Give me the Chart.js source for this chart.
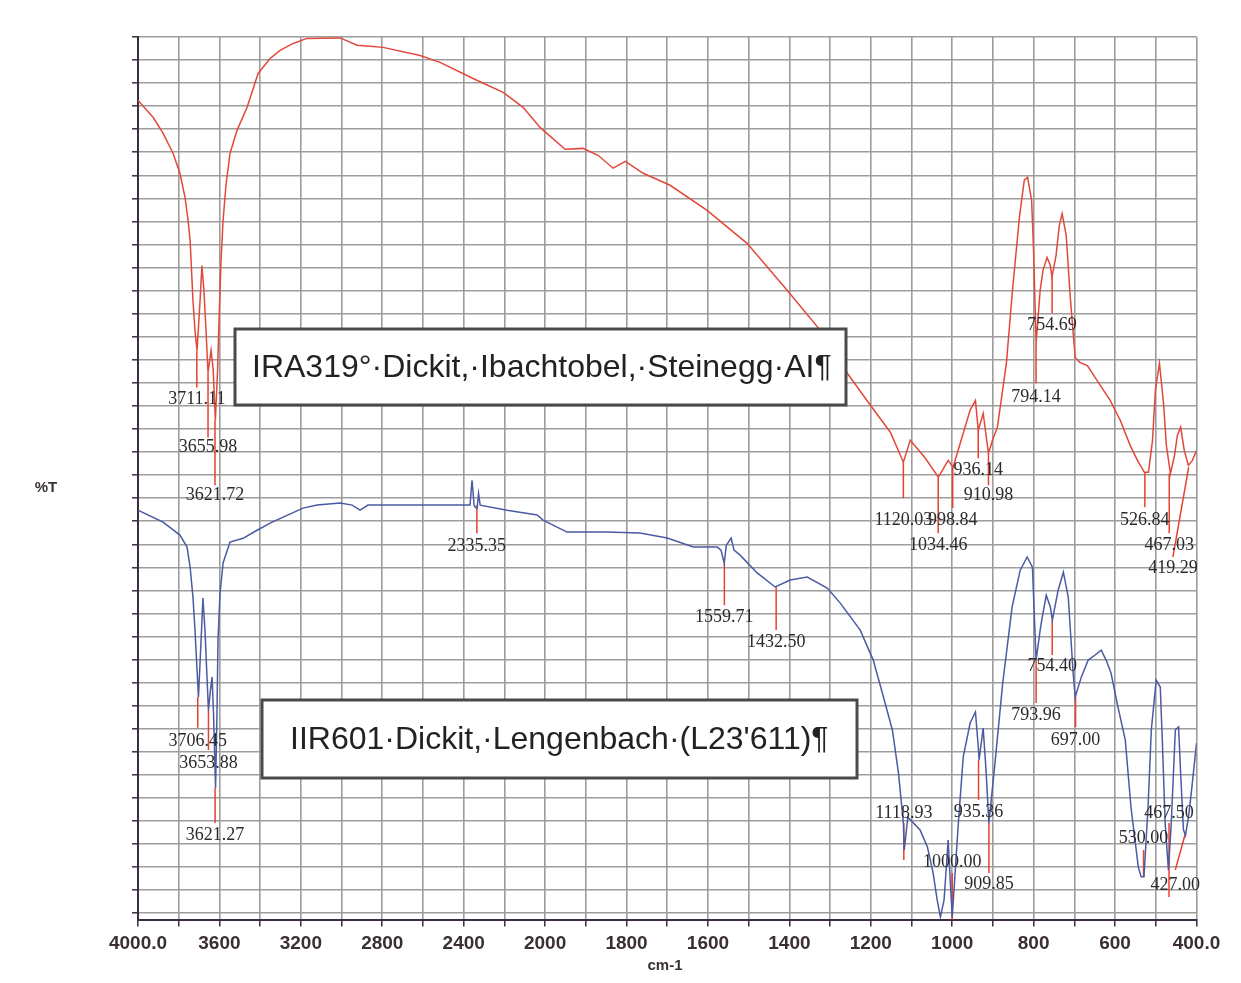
<!DOCTYPE html>
<html>
<head>
<meta charset="utf-8">
<script src="https://cdn.jsdelivr.net/npm/chart.js@4.4.1/dist/chart.umd.min.js"></script>
<style>
  html, body { margin: 0; padding: 0; background: #fff; }
  canvas { display: block; }
</style>
</head>
<body>
<canvas id="spectrum" width="1241" height="983"></canvas>
<script>
// IRA319 (upper trace) - wavenumber cm-1 / %T (grid units)
const redWn = [4000, 3926, 3877, 3828, 3794, 3769, 3754, 3744, 3730, 3720, 3710, 3695, 3686, 3676, 3666, 3656, 3641, 3631, 3620, 3609,
  3602, 3592, 3582, 3568, 3548, 3514, 3464, 3410, 3351, 3302, 3238, 3170, 3007, 2924, 2860, 2796, 2614, 2516, 2354, 2206,
  2108, 2025, 1951, 1907, 1870, 1833, 1803, 1759, 1693, 1602, 1504, 1405, 1324, 1263, 1201, 1152, 1120, 1103, 1066, 1034,
  1010, 998, 973, 956, 943, 936, 924, 911, 901, 889, 867, 852, 835, 823, 815, 805, 800, 794, 784, 777,
  767, 759, 755, 745, 737, 730, 720, 710, 698, 686, 668, 644, 612, 587, 563, 545, 528, 518, 508, 501,
  491, 481, 474, 464, 454, 447, 439, 430, 420, 410, 400];
const redT = [35.25, 34.52, 33.83, 32.96, 32.09, 31.05, 30.05, 29.18, 26.58, 25.28, 24.41, 26.58, 28.09, 27.0, 25.28, 23.45, 24.41, 23.62, 21.38, 23.55,
  25.72, 28.32, 30.05, 31.56, 32.95, 33.94, 34.95, 36.42, 37.07, 37.42, 37.72, 37.94, 37.96, 37.64, 37.6, 37.55, 37.2, 36.9, 36.2, 35.6,
  34.95, 34.08, 33.13, 33.17, 32.87, 32.31, 32.61, 32.09, 31.57, 30.48, 29.05, 27.01, 25.28, 23.55, 22.03, 20.86, 19.56, 20.51, 19.73, 18.91,
  19.64, 19.34, 20.82, 21.82, 22.24, 20.94, 21.68, 19.95, 20.51, 21.08, 23.85, 27.02, 30.18, 31.79, 31.92, 30.92, 28.63, 24.73, 27.02, 27.88,
  28.44, 28.1, 27.58, 28.53, 29.82, 30.34, 29.39, 26.7, 24.1, 23.88, 23.75, 23.1, 22.24, 21.37, 20.29, 19.64, 19.12, 19.12, 20.51, 22.68,
  23.85, 22.11, 20.29, 19.07, 19.86, 20.72, 21.08, 20.07, 19.42, 19.64, 20.07];

// IIR601 (lower trace)
const blueWn = [4000, 3877, 3794, 3759, 3744, 3730, 3720, 3710, 3703, 3690, 3681, 3671, 3661, 3654, 3644, 3636, 3629, 3619, 3612, 3607,
  3597, 3582, 3548, 3484, 3415, 3351, 3287, 3189, 3120, 3007, 2948, 2909, 2870, 2811, 2565, 2369, 2359, 2349, 2344, 2334,
  2327, 2319, 2187, 2039, 2010, 1946, 1848, 1767, 1700, 1636, 1577, 1568, 1560, 1555, 1543, 1536, 1521, 1479, 1435, 1398,
  1356, 1307, 1275, 1226, 1194, 1169, 1147, 1132, 1120, 1118, 1109, 1079, 1061, 1047, 1037, 1029, 1020, 1010, 1005, 1000,
  985, 973, 956, 943, 936, 934, 924, 917, 910, 895, 876, 853, 833, 816, 803, 794, 784, 779, 769, 759,
  754, 740, 727, 715, 703, 698, 683, 666, 649, 634, 622, 610, 593, 575, 561, 543, 536, 529, 519, 511,
  499, 489, 484, 477, 469, 462, 452, 444, 439, 432, 427, 419, 412, 400];
const blueT = [17.48, 16.96, 16.4, 15.88, 15.01, 13.71, 12.28, 10.55, 9.38, 11.85, 13.67, 12.28, 10.24, 8.81, 9.68, 10.24, 8.68, 5.43, 8.68, 11.85,
  13.89, 15.19, 16.1, 16.26, 16.61, 16.92, 17.18, 17.57, 17.7, 17.79, 17.7, 17.48, 17.7, 17.7, 17.7, 17.7, 18.78, 17.7, 17.61, 17.57,
  18.21, 17.7, 17.48, 17.27, 17.05, 16.53, 16.53, 16.49, 16.27, 15.88, 15.88, 15.75, 15.18, 15.96, 16.27, 15.75, 15.53, 14.76, 14.15, 14.45,
  14.58, 14.1, 13.45, 12.28, 10.98, 9.38, 7.95, 6.08, 3.91, 2.74, 4.17, 3.61, 2.88, 1.75, 0.58, -0.16, 0.58, 3.18, 1.44, -0.16,
  3.91, 6.78, 8.25, 8.73, 7.21, 6.65, 8.03, 6.21, 3.91, 6.51, 9.98, 13.28, 14.88, 15.45, 15.01, 10.98, 12.28, 12.84, 13.79, 13.28,
  12.71, 14.0, 14.79, 13.71, 10.42, 9.38, 10.24, 10.98, 11.2, 11.41, 10.98, 10.42, 8.95, 7.52, 4.61, 2.01, 1.58, 1.58, 4.61, 7.95,
  10.11, 9.81, 7.52, 3.91, 1.88, 3.91, 7.95, 8.08, 6.08, 3.61, 3.39, 4.26, 5.35, 7.38];

// peak picks: marker from / to (%T), label height, leader end wavenumber (null = vertical)
const redPeakWn = [3711.11, 3655.98, 3621.72, 1120.03, 1034.46, 998.84, 936.14, 910.98, 794.14, 754.69, 526.84, 467.03, 419.29];
const redPeakFrom = [24.41, 23.45, 21.38, 19.56, 18.91, 19.34, 20.94, 19.95, 24.73, 27.58, 19.12, 19.07, 19.34];
const redPeakTo = [22.8, 20.63, 18.56, 18.0, 16.48, 17.57, 19.73, 18.56, 22.99, 26.02, 17.61, 16.48, 15.44];
const redPeakLabel = [22.28, 20.2, 18.13, 17.05, 15.96, 17.05, 19.21, 18.13, 22.38, 25.5, 17.05, 15.96, 14.97];
const redPeakEnd = [null, null, null, null, null, null, null, null, null, null, null, null, 458];

const bluePeakWn = [3706.45, 3653.88, 3621.27, 2335.35, 1559.71, 1432.50, 1118.93, 1000.00, 935.36, 909.85, 793.96, 754.40, 697.00, 530.00, 467.50, 427.00];
const bluePeakFrom = [9.38, 8.81, 5.43, 17.7, 15.18, 14.15, 2.31, -0.29, 6.65, 3.91, 10.98, 12.71, 9.38, 1.58, 0.71, 3.48];
const bluePeakTo = [8.04, 7.08, 3.91, 16.48, 13.36, 12.28, 3.91, 1.75, 4.91, 1.75, 9.12, 11.2, 8.08, 2.74, 3.91, 1.88];
const bluePeakLabel = [7.47, 6.51, 3.39, 15.92, 12.84, 11.76, 4.35, 2.22, 4.39, 1.27, 8.6, 10.72, 7.52, 3.27, 4.35, 1.23];
const bluePeakEnd = [null, null, null, null, null, null, null, null, null, null, null, null, null, null, null, 452];

const gridSteps = 26;   // vertical grid lines: 200 cm-1 above 2000, 100 cm-1 below
const yLines = 38;

// split abscissa, as on the instrument printout
function wnToPos(wn) {
    return wn >= 2000 ? (4000 - wn) / 200 : 10 + (2000 - wn) / 100;
}
function posToWn(p) {
    return p <= 10 ? 4000 - 200 * p : 2000 - 100 * (p - 10);
}

function toPoints(wn, t) {
    return wn.map((w, i) => ({ x: wnToPos(w), y: t[i] }));
}
function toMarkers(wn, from, to, end) {
    const pts = [];
    wn.forEach((w, i) => {
        const e = end[i] === null ? w : end[i];
        pts.push({ x: wnToPos(w), y: from[i] }, { x: wnToPos(e), y: to[i] }, { x: wnToPos(e), y: null });
    });
    return pts;
}

const RED = '#e2483a';
const BLUE = '#4b5aa3';
const AXIS = '#3c2c42';

const peakSets = [
    { wn: redPeakWn, label: redPeakLabel, end: redPeakEnd },
    { wn: bluePeakWn, label: bluePeakLabel, end: bluePeakEnd }
];

const annotate = {
    id: 'annotate',
    afterDatasetsDraw(chart) {
        const { ctx, scales: { x, y } } = chart;
        ctx.save();
        ctx.font = '18px "Liberation Serif", "Times New Roman", serif';
        ctx.fillStyle = '#2b2b2b';
        ctx.textAlign = 'center';
        ctx.textBaseline = 'middle';
        peakSets.forEach(set => set.wn.forEach((w, i) => {
            const e = set.end[i] === null ? w : set.end[i];
            ctx.fillText(w.toFixed(2), x.getPixelForValue(wnToPos(e)), y.getPixelForValue(set.label[i]));
        }));
        ctx.restore();
    },
    afterDraw(chart) {
        const ctx = chart.ctx;
        ctx.save();
        // sample name boxes
        const boxes = [
            { l: 235, t: 329, r: 846, b: 405, text: 'IRA319°·Dickit,·Ibachtobel,·Steinegg·AI¶', tx: 252 },
            { l: 262, t: 700, r: 857, b: 778, text: 'IIR601·Dickit,·Lengenbach·(L23\'611)¶', tx: 290 }
        ];
        boxes.forEach(bx => {
            ctx.fillStyle = '#fff';
            ctx.fillRect(bx.l, bx.t, bx.r - bx.l, bx.b - bx.t);
            ctx.strokeStyle = '#4a4a4a';
            ctx.lineWidth = 3;
            ctx.strokeRect(bx.l, bx.t, bx.r - bx.l, bx.b - bx.t);
            ctx.fillStyle = '#222';
            ctx.font = '32px "Liberation Sans", Arial, sans-serif';
            ctx.textAlign = 'left';
            ctx.textBaseline = 'middle';
            ctx.fillText(bx.text, bx.tx, (bx.t + bx.b) / 2 + 1);
        });
        // axis titles
        ctx.fillStyle = '#3a2f33';
        ctx.font = 'bold 15px "Liberation Sans", Arial, sans-serif';
        ctx.textAlign = 'center';
        ctx.fillText('%T', 46, 488);
        ctx.fillText('cm-1', 665, 966);
        ctx.restore();
    }
};

new Chart(document.getElementById('spectrum'), {
    type: 'line',
    data: {
        datasets: [
            { label: 'IRA319', data: toPoints(redWn, redT), borderColor: RED, borderWidth: 1.5, pointRadius: 0 },
            { label: 'IIR601', data: toPoints(blueWn, blueT), borderColor: BLUE, borderWidth: 1.5, pointRadius: 0 },
            { label: 'peaks', data: toMarkers(redPeakWn, redPeakFrom, redPeakTo, redPeakEnd)
                .concat(toMarkers(bluePeakWn, bluePeakFrom, bluePeakTo, bluePeakEnd)),
              borderColor: '#e8412f', borderWidth: 1.5, pointRadius: 0, spanGaps: false }
        ]
    },
    options: {
        responsive: false,
        animation: false,
        layout: { padding: { top: 37, right: 44.5, left: 0, bottom: 0 } },
        scales: {
            x: {
                type: 'linear',
                min: 0,
                max: gridSteps,
                afterBuildTicks: s => { s.ticks = Array.from({ length: gridSteps + 1 }, (_, i) => ({ value: i })); },
                afterFit: s => { s.height = 63.5; },
                grid: { color: '#9d9d9d', lineWidth: 1.6, tickLength: 7, tickColor: AXIS, tickWidth: 1.5 },
                border: { color: AXIS, width: 2 },
                ticks: {
                    autoSkip: false,
                    maxRotation: 0,
                    padding: 6,
                    color: '#3a2f33',
                    font: { family: '"Liberation Sans", Arial, sans-serif', size: 19, weight: 'bold' },
                    callback: v => {
                        if (v % 2) return '';
                        const w = posToWn(v);
                        return (w === 4000 || w === 400) ? w.toFixed(1) : String(w);
                    }
                }
            },
            y: {
                type: 'linear',
                min: -0.27,
                max: yLines,
                afterBuildTicks: s => { s.ticks = Array.from({ length: yLines + 1 }, (_, i) => ({ value: i })); },
                afterFit: s => { s.width = 138; },
                grid: { color: '#9d9d9d', lineWidth: 1.6, tickLength: 6, tickColor: AXIS, tickWidth: 1.5 },
                border: { color: AXIS, width: 2 },
                ticks: { display: false }
            }
        },
        plugins: {
            legend: { display: false },
            tooltip: { enabled: false }
        }
    },
    plugins: [annotate]
});
</script>
</body>
</html>
